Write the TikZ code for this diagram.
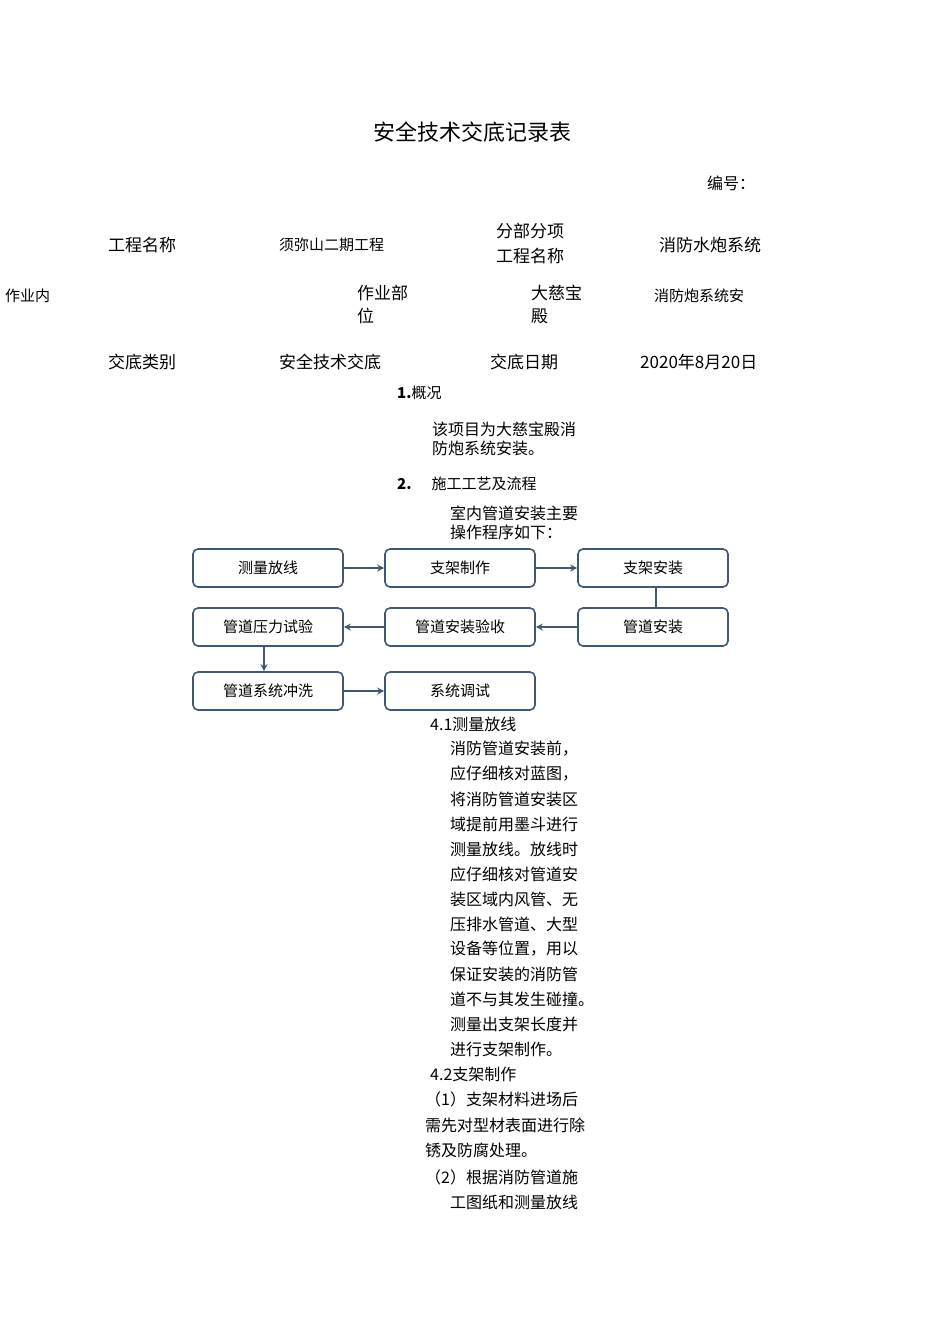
\documentclass[tikz,border=0pt]{standalone}
\usepackage{fontspec}
\setmainfont{Noto Sans CJK SC}
\usetikzlibrary{arrows.meta}
\definecolor{bx}{HTML}{3E5974}
\tikzset{x=1pt,y=-1pt,
 t/.style={anchor=west,inner sep=0pt,font=\fontsize{16}{16}\selectfont},
 s/.style={anchor=west,inner sep=0pt,font=\fontsize{15}{15}\selectfont},
 fb/.style={draw=bx,line width=1.6pt,rounded corners=5pt,minimum width=150pt,minimum height=38pt,font=\fontsize{15}{15}\selectfont,inner sep=0pt},
 ar/.style={draw=bx,line width=1.6pt,-{Stealth[length=7pt,width=7pt]}}}
\begin{document}
\begin{tikzpicture}
\useasboundingbox (0,0) rectangle (950,1344);
\node[anchor=center,inner sep=0pt,font=\fontsize{22}{22}\selectfont] (title) at (472,132) {安全技术交底记录表};
\node[t] (bh) at (707,183) {编号：};
\node[t,font=\fontsize{17}{17}\selectfont] (a1) at (108,245) {工程名称};
\node[s] (a2) at (279,245) {须弥山二期工程};
\node[t,font=\fontsize{17}{17}\selectfont] (a3) at (496,231) {分部分项};
\node[t,font=\fontsize{17}{17}\selectfont] (a3b) at (496,256) {工程名称};
\node[t,font=\fontsize{17}{17}\selectfont] (a4) at (659,245) {消防水炮系统};
\node[s] (b1) at (5,296) {作业内};
\node[t,font=\fontsize{17}{17}\selectfont] (b2) at (357,293) {作业部};
\node[t,font=\fontsize{17}{17}\selectfont] (b2b) at (357,316) {位};
\node[t,font=\fontsize{17}{17}\selectfont] (b3) at (531,293) {大慈宝};
\node[t,font=\fontsize{17}{17}\selectfont] (b3b) at (531,316) {殿};
\node[s] (b4) at (654,296) {消防炮系统安};
\node[t,font=\fontsize{17}{17}\selectfont] (c1) at (108,362) {交底类别};
\node[t,font=\fontsize{17}{17}\selectfont] (c2) at (279,362) {安全技术交底};
\node[t,font=\fontsize{17}{17}\selectfont] (c3) at (490,362) {交底日期};
\node[t,font=\fontsize{17}{17}\selectfont] (c4) at (640,362) {2020年8月20日};
\node[s] (p1) at (397,393) {\textbf{1.}概况};
\node[t] (p2) at (432,429) {该项目为大慈宝殿消};
\node[t] (p3) at (432,448) {防炮系统安装。};
\node[s] (p4) at (397,484) {\textbf{2.}\hspace{20pt}施工工艺及流程};
\node[t] (p5) at (450,513) {室内管道安装主要};
\node[t] (p6) at (450,532) {操作程序如下：};
\node[fb] (n1) at (268,568) {测量放线};
\node[fb] (n2) at (460,568) {支架制作};
\node[fb] (n3) at (653,568) {支架安装};
\node[fb] (n4) at (653,627) {管道安装};
\node[fb] (n5) at (460,627) {管道安装验收};
\node[fb] (n6) at (268,627) {管道压力试验};
\node[fb] (n7) at (268,691) {管道系统冲洗};
\node[fb] (n8) at (460,691) {系统调试};
\draw[ar] (n1) -- (n2);
\draw[ar] (n2) -- (n3);
\draw[draw=bx,line width=1.6pt] (n3.south -| 656,0) -- (n4.north -| 656,0);
\draw[ar] (n4) -- (n5);
\draw[ar] (n5) -- (n6);
\draw[ar] (n6.south -| 264,0) -- (n7.north -| 264,0);
\draw[ar] (n7) -- (n8);
\foreach \i/\y/\x/\s in {q1/724/430/{4.1测量放线},q2/749/450/{消防管道安装前，},q3/774/450/{应仔细核对蓝图，},q4/799/450/{将消防管道安装区},q5/824/450/{域提前用墨斗进行},q6/849/450/{测量放线。放线时},q7/874/450/{应仔细核对管道安},q8/899/450/{装区域内风管、无},q9/924/450/{压排水管道、大型},q10/949/450/{设备等位置，用以},q11/974/450/{保证安装的消防管},q12/999/450/{道不与其发生碰撞。},q13/1024/450/{测量出支架长度并},q14/1049/450/{进行支架制作。},q15/1074/430/{4.2支架制作},q16/1099/425/{（1）支架材料进场后},q17/1125/425/{需先对型材表面进行除},q18/1150/425/{锈及防腐处理。},q19/1177/425/{（2）根据消防管道施},q20/1202/450/{工图纸和测量放线}}
 {\node[t] (\i) at (\x,\y) {\s};}
\end{tikzpicture}
\end{document}
